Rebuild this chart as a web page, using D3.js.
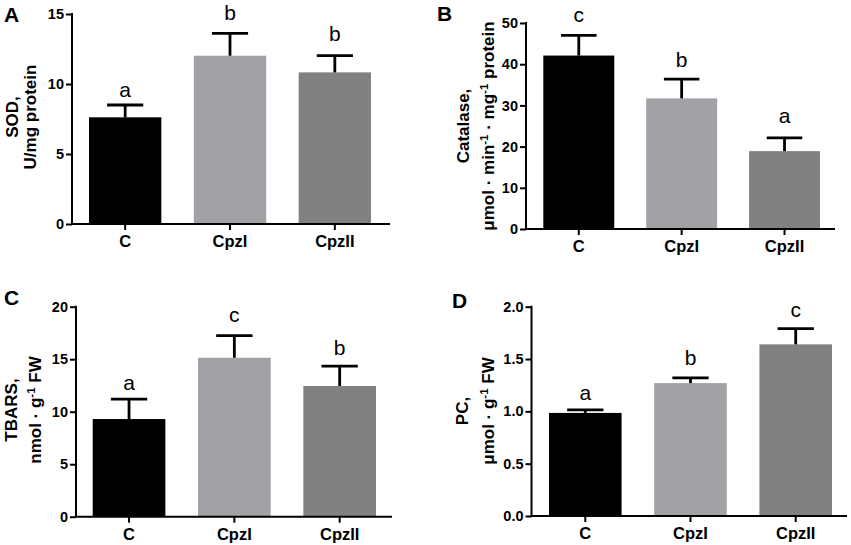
<!DOCTYPE html>
<html>
<head>
<meta charset="utf-8">
<script src="https://cdn.jsdelivr.net/npm/d3@7"></script>
<style>
  html, body { margin: 0; padding: 0; background: #fff; }
  svg { display: block; font-family: "Liberation Sans", Arial, sans-serif; }
</style>
</head>
<body>
<svg id="chart" width="851" height="545"></svg>
<script>
// ---------- data ----------
const categories = ["C", "CpzI", "CpzII"];

const sodMean = [7.62, 12.02, 10.83];
const sodErr = [0.88, 1.6, 1.19];
const sodLetters = ["a", "b", "b"];
const sodLetterPos = [9.1, 14.6, 13.1];
const sodTicks = [0, 5, 10, 15];

const catMean = [42.1, 31.7, 18.9];
const catErr = [4.9, 4.7, 3.2];
const catLetters = ["c", "b", "a"];
const catLetterPos = [50.3, 39.4, 25.8];
const catTicks = [0, 10, 20, 30, 40, 50];

const tbarsMean = [9.3, 15.14, 12.45];
const tbarsErr = [1.9, 2.1, 1.9];
const tbarsLetters = ["a", "c", "b"];
const tbarsLetterPos = [12.07, 18.5, 15.4];
const tbarsTicks = [0, 5, 10, 15, 20];

const pcMean = [0.985, 1.27, 1.64];
const pcErr = [0.03, 0.05, 0.15];
const pcLetters = ["a", "b", "c"];
const pcLetterPos = [1.105, 1.445, 1.90];
const pcTicks = [0, 0.5, 1.0, 1.5, 2.0];

const barColors = ["#000000", "#a2a2a6", "#818181"];

// ---------- layout ----------
const panels = [
  { letter: "A", lx: 4, ly: 22, mean: sodMean, err: sodErr, letters: sodLetters, lpos: sodLetterPos,
    ticks: sodTicks, fmt: d3.format("d"), max: 15,
    ax: 72, y0: 224, yTop: 14, xEnd: 390, band: [89, 371],
    label: [{x: 18, parts: [["SOD,"]]}, {x: 36, parts: [["U/mg protein"]]}], labelY: 117 },
  { letter: "B", lx: 437, ly: 21, mean: catMean, err: catErr, letters: catLetters, lpos: catLetterPos,
    ticks: catTicks, fmt: d3.format("d"), max: 50,
    ax: 526, y0: 229, yTop: 23, xEnd: 835, band: [543.3, 820],
    label: [{x: 469, parts: [["Catalase,"]]},
            {x: 494, parts: [["μmol · min"], ["-1", "sup"], [" · mg"], ["-1", "sup"], [" protein"]]}], labelY: 126 },
  { letter: "C", lx: 4, ly: 305, mean: tbarsMean, err: tbarsErr, letters: tbarsLetters, lpos: tbarsLetterPos,
    ticks: tbarsTicks, fmt: d3.format("d"), max: 20,
    ax: 76, y0: 516.7, yTop: 306.7, xEnd: 392, band: [92.7, 376],
    label: [{x: 17, parts: [["TBARS,"]]}, {x: 41, parts: [["nmol · g"], ["-1", "sup"], [" FW"]]}], labelY: 410 },
  { letter: "D", lx: 452, ly: 308, mean: pcMean, err: pcErr, letters: pcLetters, lpos: pcLetterPos,
    ticks: pcTicks, fmt: d3.format(".1f"), max: 2,
    ax: 531.5, y0: 516, yTop: 306.7, xEnd: 847, band: [549, 832],
    label: [{x: 468, parts: [["PC,"]]}, {x: 494, parts: [["μmol · g"], ["-1", "sup"], [" FW"]]}], labelY: 411 }
];

const svg = d3.select("#chart");

panels.forEach(p => {
  const g = svg.append("g");
  const y = d3.scaleLinear().domain([0, p.max]).range([p.y0, p.yTop]);
  const x = d3.scaleBand().domain(categories).range(p.band).paddingInner(0.31).paddingOuter(0);
  const bw = x.bandwidth();

  // bars
  g.selectAll("rect.bar").data(categories).enter().append("rect")
    .attr("class", "bar")
    .attr("x", d => x(d))
    .attr("width", bw)
    .attr("y", (d, i) => y(p.mean[i]))
    .attr("height", (d, i) => p.y0 - y(p.mean[i]))
    .attr("fill", (d, i) => barColors[i]);

  // error bars
  categories.forEach((c, i) => {
    const cx = x(c) + bw / 2;
    const top = y(p.mean[i] + p.err[i]);
    g.append("line").attr("x1", cx).attr("x2", cx)
      .attr("y1", y(p.mean[i])).attr("y2", top)
      .attr("stroke", "#000").attr("stroke-width", 2.8);
    g.append("line").attr("x1", cx - bw / 4).attr("x2", cx + bw / 4)
      .attr("y1", top).attr("y2", top)
      .attr("stroke", "#000").attr("stroke-width", 2.8);
    g.append("text").attr("x", cx).attr("y", y(p.lpos[i]))
      .attr("text-anchor", "middle")
      .attr("font-size", 21).attr("fill", "#000")
      .text(p.letters[i]);
  });

  // y axis
  const yAxis = d3.axisLeft(y).tickValues(p.ticks).tickFormat(p.fmt)
    .tickSize(6).tickPadding(2).tickSizeOuter(0);
  const ya = g.append("g").attr("transform", `translate(${p.ax},0)`).call(yAxis);
  ya.select(".domain").remove();
  ya.selectAll(".tick line").attr("stroke", "#000").attr("stroke-width", 2);
  ya.selectAll(".tick text").attr("font-size", 14.5).attr("font-weight", "bold")
    .attr("fill", "#000").attr("font-family", "'Liberation Sans', Arial, sans-serif");

  // x axis
  const xAxis = d3.axisBottom(x).tickSize(6).tickPadding(4).tickSizeOuter(0);
  const xa = g.append("g").attr("transform", `translate(0,${p.y0})`).call(xAxis);
  xa.select(".domain").remove();
  xa.selectAll(".tick line").attr("stroke", "#000").attr("stroke-width", 2);
  xa.selectAll(".tick text").attr("font-size", 16.5).attr("font-weight", "bold")
    .attr("fill", "#000").attr("dy", null).attr("y", 23)
    .attr("font-family", "'Liberation Sans', Arial, sans-serif");

  // axis lines
  g.append("line").attr("x1", p.ax).attr("x2", p.ax).attr("y1", p.yTop - 1).attr("y2", p.y0)
    .attr("stroke", "#000").attr("stroke-width", 2);
  g.append("line").attr("x1", p.ax - 1).attr("x2", p.xEnd).attr("y1", p.y0).attr("y2", p.y0)
    .attr("stroke", "#000").attr("stroke-width", 2);

  // y label
  p.label.forEach(line => {
    const t = g.append("text")
      .attr("transform", `translate(${line.x},${p.labelY}) rotate(-90)`)
      .attr("text-anchor", "middle")
      .attr("font-size", 17).attr("font-weight", "bold").attr("fill", "#000");
    line.parts.forEach(part => {
      const ts = t.append("tspan").text(part[0]);
      if (part[1] === "sup") {
        ts.attr("baseline-shift", "super").attr("font-size", 11.5);
      }
    });
  });

  // panel letter
  g.append("text").attr("x", p.lx).attr("y", p.ly)
    .attr("font-size", 21).attr("font-weight", "bold").attr("fill", "#000")
    .text(p.letter);
});
</script>
</body>
</html>
